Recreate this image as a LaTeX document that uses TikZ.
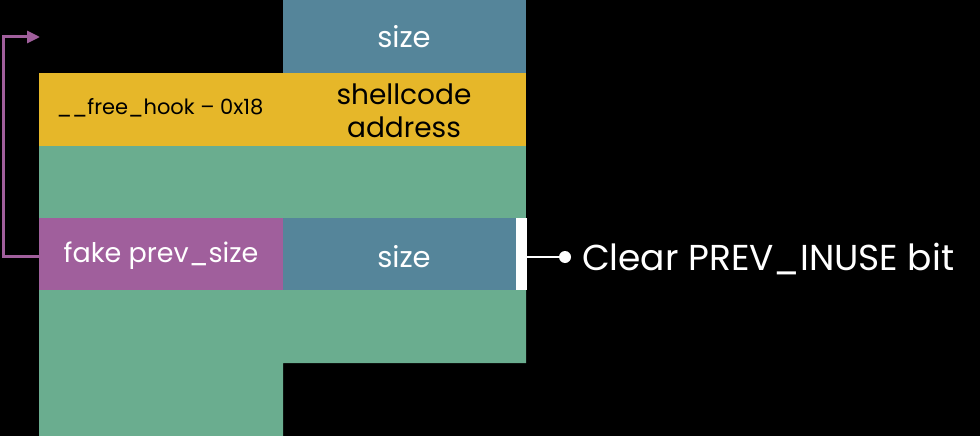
\documentclass[tikz,border=0pt]{standalone}
\usepackage{fontspec}
\setmainfont{Poppins}
\usetikzlibrary{arrows.meta}
\definecolor{cblue}{RGB}{85,133,154}
\definecolor{cyellow}{RGB}{230,183,41}
\definecolor{cgreen}{RGB}{106,173,143}
\definecolor{cpurple}{RGB}{160,95,156}
\begin{document}
\begin{tikzpicture}[x=1pt,y=-1pt]
\tikzset{
  cell/.style={inner sep=0pt,outer sep=0pt,anchor=north west},
  lbl/.style={inner sep=0pt,outer sep=0pt,align=center},
}
\fill[black] (0,0) rectangle (980,436);
\useasboundingbox (0,0) rectangle (980,436);
% blocks
\node[cell,fill=cblue,minimum width=243pt,minimum height=73pt] (topsize) at (283,0) {};
\node[cell,fill=cyellow,minimum width=487pt,minimum height=73pt] (yellow) at (39,73) {};
\node[cell,fill=cgreen,minimum width=487pt,minimum height=72pt] (green1) at (39,146) {};
\node[cell,fill=cpurple,minimum width=244pt,minimum height=72pt] (fake) at (39,218) {};
\node[cell,fill=cblue,minimum width=243pt,minimum height=72pt] (lowsize) at (283,218) {};
\node[cell,fill=white,minimum width=11pt,minimum height=72pt] (bitbar) at (516,218) {};
\fill[cgreen] (39,290) -- (526,290) -- (526,363) -- (283,363) -- (283,436) -- (39,436) -- cycle;
% texts
\node[lbl,text=white,font=\fontsize{29}{30}\selectfont] (t1) at (404,37) {size};
\node[lbl,text=black,font=\fontsize{21}{24}\selectfont] (t2) at (160,108) {\_\_free\_hook – 0x18};
\node[lbl,text=black,font=\fontsize{28}{33}\selectfont] (t3) at (404,111) {shellcode\\address};
\node[lbl,text=white,font=\fontsize{27}{30}\selectfont] (t4) at (161,256) {fake prev\_size};
\node[lbl,text=white,font=\fontsize{29}{30}\selectfont] (t5) at (404,257) {size};
% connector to label
\coordinate (dot) at (565,257);
\draw[white,line width=2pt] (bitbar.east |- dot) -- (dot);
\fill[white] (dot) circle (6pt);
\node[lbl,text=white,anchor=west,font=\fontsize{36}{40}\selectfont] (clear) at (582,259) {Clear PREV\_INUSE bit};
% purple arrow
\coordinate (top) at (40,37);
\draw[cpurple,line width=3pt,-{Triangle[length=13pt,width=12pt]}] (fake.west |- 0,256) -- (3,256) -- (3,37) -- (top);
\end{tikzpicture}
\end{document}
